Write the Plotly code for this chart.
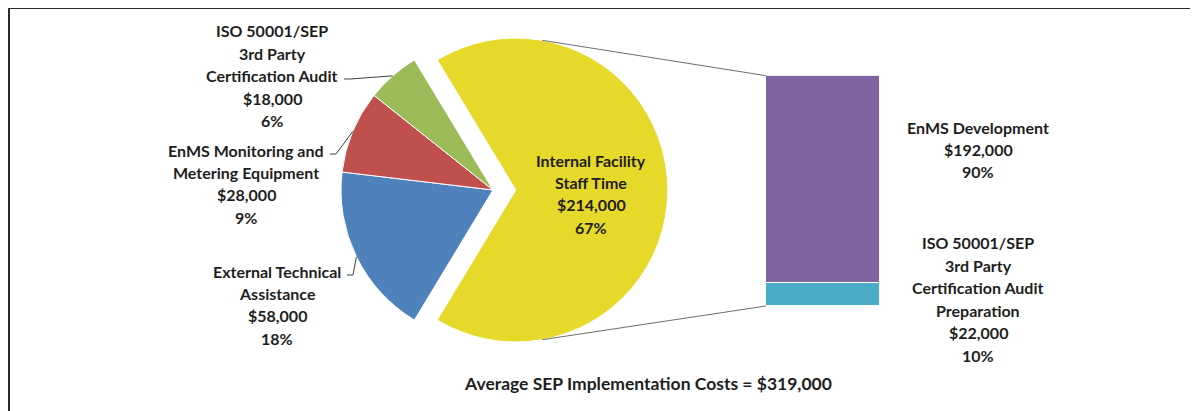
import math

import plotly.graph_objects as go

# ---- data ----
pie_names = [
    "Internal Facility\nStaff Time",
    "External Technical\nAssistance",
    "EnMS Monitoring and\nMetering Equipment",
    "ISO 50001/SEP\n3rd Party\nCertification Audit",
]
pie_values = [214000, 58000, 28000, 18000]
pie_colors = ["#E6D92A", "#4F81BD", "#C0504D", "#9BBB59"]

bar_names = [
    "EnMS Development",
    "ISO 50001/SEP\n3rd Party\nCertification Audit\nPreparation",
]
bar_values = [192000, 22000]
bar_colors = ["#8064A2", "#4BACC6"]

total_cost = 319000

# ---- layout constants (page pixels; the page body adds an 8px offset) ----
OFF = 8
W, H = 1198 - OFF, 411 - OFF
FONT = "Lato"
TEXT = "#1e1e1e"
PIE_CX, PIE_CY, PIE_R = 493, 190, 152
PULL = 0.15
BAR_X0, BAR_X1, BAR_Y0, BAR_Y1 = 766, 880, 75.7, 306
LINE_STEP = 22.4
LABEL_SIZE = 16


def px(x):
    return (x - OFF) / W


def py(y):
    return 1 - (y - OFF) / H


pie_total = sum(pie_values)
rotation = 90 - 360 * pie_values[0] / pie_total / 2
half = PIE_R * (1 + PULL)

fig = go.Figure()
fig.add_trace(go.Pie(
    values=pie_values,
    labels=[n.replace("\n", " ") for n in pie_names],
    marker=dict(colors=pie_colors, line=dict(color="white", width=1)),
    sort=False,
    direction="clockwise",
    rotation=rotation,
    pull=[PULL, 0, 0, 0],
    textinfo="none",
    hoverinfo="label+value+percent",
    domain=dict(x=[px(PIE_CX - half), px(PIE_CX + half)],
                y=[py(PIE_CY + half), py(PIE_CY - half)]),
))

# stacked bar, bottom segment first
for name, val, col in reversed(list(zip(bar_names, bar_values, bar_colors))):
    fig.add_trace(go.Bar(
        x=[0], y=[val], name=name.replace("\n", " "),
        marker=dict(color=col, line=dict(color="white", width=1)),
        width=1, xaxis="x", yaxis="y",
    ))

# slice mid angles, same geometry as plotly (clockwise from 12 o'clock)
mids = []
acc = rotation
for v in pie_values:
    span = 360 * v / pie_total
    mids.append(math.radians(acc + span / 2))
    acc += span


def edge_point(i):
    a = mids[i]
    return PIE_CX + PIE_R * math.sin(a), PIE_CY - PIE_R * math.cos(a)


def add_block(lines, cx, y0, size=LABEL_SIZE):
    for k, line in enumerate(lines):
        fig.add_annotation(
            x=px(cx), y=py(y0 + k * LINE_STEP), xref="paper", yref="paper",
            text=f"<b>{line}</b>", showarrow=False,
            xanchor="center", yanchor="middle",
            font=dict(family=FONT, size=size, color=TEXT),
        )


def label_lines(name, val, total):
    return name.split("\n") + [f"${val:,}", f"{round(100 * val / total)}%"]


# pie labels: (center x, first line y, leader start x, leader y)
pie_label_pos = [
    (591, 160, None, None),
    (277, 271, 347, 275),
    (246, 150, 330, 154),
    (272, 31, 344, 79),
]
for i, (cx, y0, lx, ly) in enumerate(pie_label_pos):
    add_block(label_lines(pie_names[i], pie_values[i], total_cost), cx, y0)
    if lx is not None:
        ex, ey = edge_point(i)
        fig.add_shape(
            type="path", xref="paper", yref="paper",
            path=f"M {px(lx)},{py(ly)} L {px(lx + 6)},{py(ly)} L {px(ex)},{py(ey)}",
            line=dict(color="#404040", width=1),
        )

bar_total = sum(bar_values)
bar_label_pos = [(978, 127), (978, 243)]
for i, (cx, y0) in enumerate(bar_label_pos):
    add_block(label_lines(bar_names[i], bar_values[i], bar_total), cx, y0)

# connector lines from the pulled slice to the bar
pcx = PIE_CX + PULL * PIE_R * math.sin(mids[0])
pcy = PIE_CY - PULL * PIE_R * math.cos(mids[0])
for ang, by in [(10, BAR_Y0), (170, BAR_Y1)]:
    a = math.radians(ang)
    sx, sy = pcx + PIE_R * math.sin(a), pcy - PIE_R * math.cos(a)
    fig.add_shape(type="line", xref="paper", yref="paper",
                  x0=px(sx), y0=py(sy), x1=px(BAR_X0), y1=py(by),
                  line=dict(color="#6e6e6e", width=1))

fig.add_annotation(
    x=px(648), y=py(383), xref="paper", yref="paper",
    text=f"<b>Average SEP Implementation Costs = ${total_cost:,}</b>",
    showarrow=False, xanchor="center", yanchor="middle",
    font=dict(family=FONT, size=17.5, color=TEXT),
)

# frame (top and left edges visible)
fig.add_shape(type="line", xref="paper", yref="paper", x0=px(9), y0=py(8), x1=1, y1=py(8),
              line=dict(color="#2a2a2a", width=2))
fig.add_shape(type="line", xref="paper", yref="paper", x0=px(9), y0=py(8), x1=px(9), y1=0,
              line=dict(color="#2a2a2a", width=2))

fig.update_layout(
    width=W, height=H, autosize=False,
    margin=dict(l=0, r=0, t=0, b=0),
    paper_bgcolor="white", plot_bgcolor="white",
    showlegend=False, barmode="stack", bargap=0,
    xaxis=dict(domain=[px(BAR_X0), px(BAR_X1)], range=[-0.5, 0.5], visible=False, fixedrange=True),
    yaxis=dict(domain=[py(BAR_Y1), py(BAR_Y0)], range=[0, bar_total], visible=False, fixedrange=True),
)

fig.write_html("out.html")
